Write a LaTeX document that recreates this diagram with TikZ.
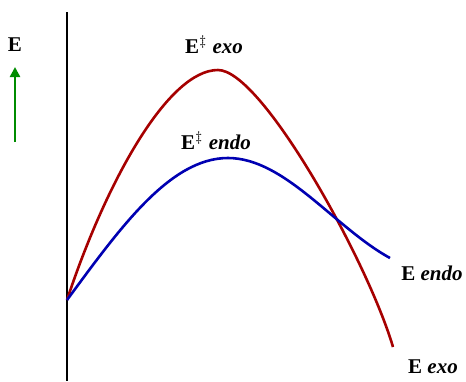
\documentclass[tikz,border=0pt]{standalone}
\usepackage{fontspec}
\setmainfont{Liberation Serif}
\usetikzlibrary{arrows.meta}

\begin{document}
\begin{tikzpicture}[
    x=0.5pt, y=-0.5pt,
    lbl/.style={font=\bfseries\fontsize{10.5}{12}\selectfont, inner sep=1pt},
    axis/.style={line width=1.2pt, black},
    exo/.style={line width=1.3pt, red!65!black},
    endo/.style={line width=1.3pt, blue!70!black},
    up/.style={-{Triangle[length=5pt, width=5pt]}, line width=1.2pt, green!55!black},
  ]
  \useasboundingbox (0,0) rectangle (466,381);

  % axis and energy arrow
  \coordinate (top) at (67,12);
  \coordinate (bot) at (67,381);
  \draw[axis] (top) -- (bot);
  \node[lbl] (E) at (15,45) {E};
  \coordinate (arrbot) at (15,142);
  \coordinate (arrtop) at (15,67);
  \draw[up] (arrbot) -- (arrtop);

  % energy profiles
  \coordinate (start) at (67,300);
  \draw[exo] (start) .. controls (106,182) and (168,70) .. (218,70)
        .. controls (262,70) and (368,262) .. (393,347);
  \draw[endo] (start) .. controls (120,228) and (170,158) .. (228,158)
        .. controls (285,158) and (335,228) .. (390,258);

  % labels
  \node[lbl] (TSexo) at (214,45) {E$^{\ddagger}$ \textit{exo}};
  \node[lbl] (TSendo) at (216,141) {E$^{\ddagger}$ \textit{endo}};
  \node[lbl] (Pendo) at (432,273) {E \textit{endo}};
  \node[lbl] (Pexo) at (433,367) {E \textit{exo}};
\end{tikzpicture}
\end{document}
